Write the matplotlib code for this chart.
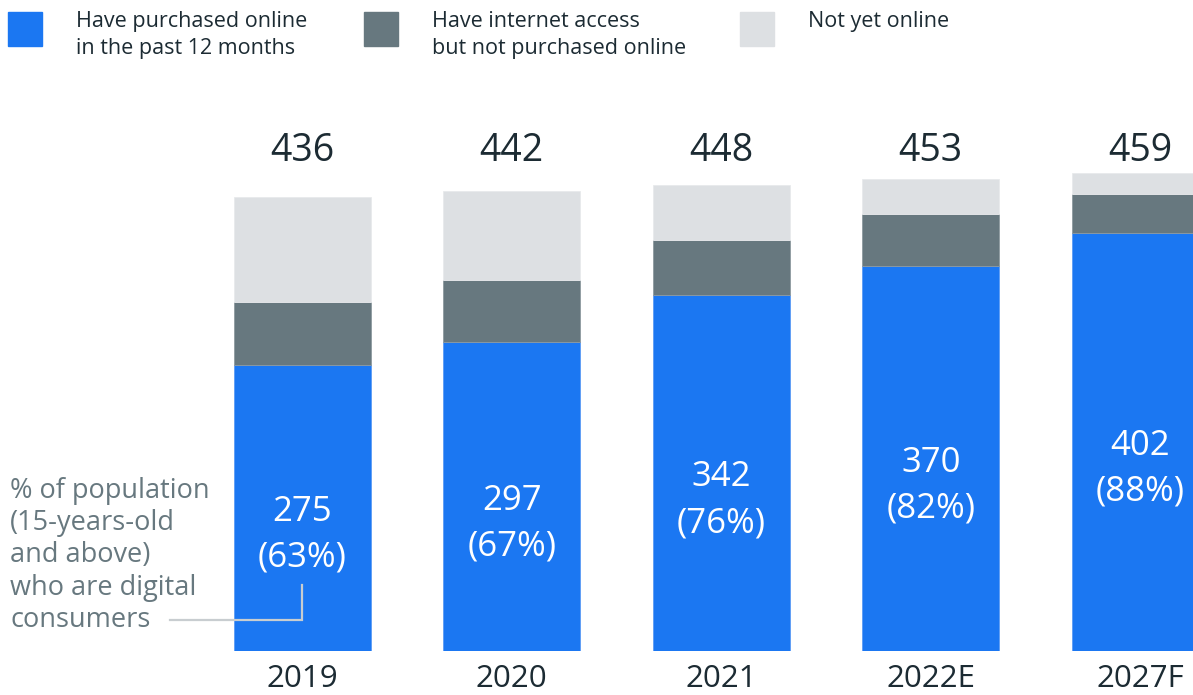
import matplotlib
matplotlib.use("Agg")
import matplotlib.pyplot as plt
from matplotlib.patches import Rectangle

plt.rcParams['font.family'] = ['Open Sans', 'DejaVu Sans']

# ---- data ----
years = ["2019", "2020", "2021", "2022E", "2027F"]
purchased = [275, 297, 342, 370, 402]
access_not_purchased = [60, 59, 53, 50, 37]
not_online = [101, 86, 53, 33, 20]
totals = [436, 442, 448, 453, 459]
pct = [63, 67, 76, 82, 88]
series_names = ["Have purchased online\nin the past 12 months",
                "Have internet access\nbut not purchased online",
                "Not yet online"]

C_BLUE = "#1b77f2"
C_GRAY = "#67787f"
C_LIGHT = "#dde0e3"
C_DARK = "#1c2b33"
C_NOTE = "#67787f"
C_LINE = "#c8cdd0"

W, H = 1193, 695
fig = plt.figure(figsize=(W / 100, H / 100), dpi=100)
ax = fig.add_axes([0, 44 / H, 1, 651 / H])
ax.set_xlim(-1.443, 4.252)
ax.set_ylim(0, 625.4)
ax.axis("off")

x = list(range(len(years)))
bw = 0.654
b1 = ax.bar(x, purchased, width=bw, color=C_BLUE, edgecolor="#5c9cf5", linewidth=0.6)
bottom2 = purchased
b2 = ax.bar(x, access_not_purchased, width=bw, bottom=bottom2, color=C_GRAY,
            edgecolor="#8d9aa0", linewidth=0.6)
bottom3 = [a + b for a, b in zip(purchased, access_not_purchased)]
b3 = ax.bar(x, not_online, width=bw, bottom=bottom3, color=C_LIGHT,
            edgecolor="#e8eaec", linewidth=0.6)

# totals above bars (at a fixed height)
for xi, t in zip(x, totals):
    ax.text(xi, 480, f"{t}", ha="center", va="center", fontsize=27, color=C_DARK)

# inside labels
for xi, v, p in zip(x, purchased, pct):
    ax.annotate(f"{v}", xy=(xi, v / 2), xytext=(0, -3), textcoords="offset points",
                ha="center", va="center", fontsize=25, color="white")
    ax.annotate(f"({p}%)", xy=(xi, v / 2), xytext=(0, -36), textcoords="offset points",
                ha="center", va="center", fontsize=25, color="white")

# year labels
for xi, y in zip(x, years):
    ax.annotate(y, xy=(xi, 0), xytext=(0, -20.5), textcoords="offset points",
                ha="center", va="center", fontsize=22.5, color=C_DARK, annotation_clip=False)

# note and connector
fig.text(10 / W, 1 - 477 / H, "% of population\n(15-years-old\nand above)\nwho are digital\nconsumers",
         ha="left", va="top", fontsize=19.5, color=C_NOTE, linespacing=1.2)
ax.plot([-0.632, x[0], x[0]], [29.8, 29.8, 63.4], color=C_LINE, lw=1.6,
        solid_joinstyle="miter")

# legend
colors = [C_BLUE, C_GRAY, C_LIGHT]
sq_x = [8, 364, 740]
tx_x = [76, 432, 808]
for c, sx, tx, name in zip(colors, sq_x, tx_x, series_names):
    fig.patches.append(Rectangle((sx / W, 1 - 46 / H), 34 / W, 34 / H,
                                 transform=fig.transFigure, color=c))
    fig.text(tx / W, 1 - 11 / H, name, ha="left", va="top", fontsize=15.5,
             color=C_DARK, linespacing=1.35)

fig.savefig("out.png", dpi=100)
